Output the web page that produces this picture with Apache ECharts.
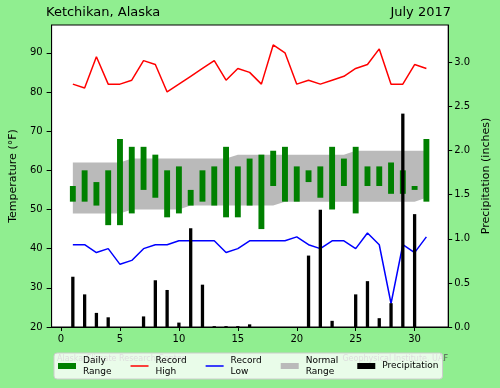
<!DOCTYPE html>
<html>
<head>
<meta charset="utf-8">
<script src="https://cdn.jsdelivr.net/npm/echarts@6/dist/echarts.min.js"></script>
<style>
html,body{margin:0;padding:0;background:#90EE90;}
#c{width:500px;height:388px;}
</style>
</head>
<body>
<div id="c"></div>
<script>
const days = [1,2,3,4,5,6,7,8,9,10,11,12,13,14,15,16,17,18,19,20,21,22,23,24,25,26,27,28,29,30,31];
const dailyHigh = [56,60,57,60,68,66,66,64,60,61,55,60,61,66,61,63,64,65,66,61,60,61,66,63,66,61,61,62,60,56,68];
const dailyLow  = [52,52,51,46,46,49,55,53,48,49,51,52,51,48,48,51,45,56,52,52,57,53,50,56,49,56,56,54,54,55,52];
const recordHigh = [82,81,89,82,82,83,88,87,80,82,84,86,88,83,86,85,82,92,90,82,83,82,83,84,86,87,91,82,82,87,86];
const recordLow  = [41,41,39,40,36,37,40,41,41,42,42,42,42,39,40,42,42,42,42,43,41,40,42,42,40,44,41,26,41,39,43];
const normalHigh = [62,62,62,62,62,63,63,63,63,63,63,63,63,63,64,64,64,64,64,64,64,64,64,64,65,65,65,65,65,65,65];
const normalLow  = [49,49,49,49,49,50,50,50,50,50,51,51,51,51,51,51,51,51,52,52,52,52,52,52,52,52,52,52,52,52,53];
const precip = [0.57,0.37,0.16,0.11,0,0,0.12,0.53,0.42,0.05,1.12,0.48,0.01,0.01,0.01,0.03,0,0,0,0,0.81,1.33,0.07,0,0.37,0.52,0.10,0.27,2.42,1.28,0];
const xTicks = [0,5,10,15,20,25,30];
const tempTicks = [20,30,40,50,60,70,80,90];
const precipTicks = [0,0.5,1.0,1.5,2.0,2.5,3.0];

const FONT = 'DejaVu Sans';
const LINE_ICON = 'path://M0,0 L18,0 L18,1.5 L0,1.5 Z';
const chart = echarts.init(document.getElementById('c'), null, {renderer:'canvas'});

const option = {
  backgroundColor: '#90EE90',
  animation: false,
  textStyle: {fontFamily: FONT, color: '#000'},
  title: [
    {text: 'Ketchikan, Alaska', left: 46, top: 6, padding: 0, textStyle: {fontFamily: FONT, fontSize: 13, fontWeight: 'normal', color: '#000'}},
    {text: 'July 2017', right: 49, top: 6, padding: 0, textStyle: {fontFamily: FONT, fontSize: 13, fontWeight: 'normal', color: '#000'}}
  ],
  graphic: [
    {type: 'text', z: 0, left: 57, top: 355, style: {text: 'Alaska Climate Research Center', fill: '#555', font: '8px "DejaVu Sans"'}},
    {type: 'text', z: 0, right: 52, top: 355, style: {text: 'Geophysical Institute, UAF', fill: '#555', font: '8px "DejaVu Sans"'}}
  ],
  grid: {left: 46, top: 25, width: 406, height: 302, show: true, backgroundColor: '#fff', borderColor: '#000', borderWidth: 1},
  legend: {
    z: 10,
    left: 54, top: 353,
    padding: [2, 4, 2, 4],
    itemGap: 19, itemWidth: 18, itemHeight: 6,
    backgroundColor: 'rgba(255,255,255,0.8)',
    borderColor: '#cccccc', borderWidth: 1, borderRadius: 3,
    textStyle: {fontFamily: FONT, fontSize: 9, lineHeight: 11, color: '#000', padding: [0,0,0,2]},
    formatter: function(n){ return n === 'Precipitation' ? n : n.replace(' ', '\n'); },
    data: [
      {name: 'Daily Range', icon: 'rect'},
      {name: 'Record High', icon: LINE_ICON},
      {name: 'Record Low', icon: LINE_ICON},
      {name: 'Normal Range', icon: 'rect'},
      {name: 'Precipitation', icon: 'rect'}
    ]
  },
  xAxis: {
    type: 'value', min: -0.8, max: 32.85,
    splitLine: {show: false},
    axisLine: {show: true, onZero: false, lineStyle: {color: '#000'}},
    axisTick: {show: true, length: 4, customValues: xTicks, lineStyle: {color: '#000'}},
    axisLabel: {customValues: xTicks, fontSize: 10, margin: 7, color: '#000', fontFamily: FONT}
  },
  yAxis: [
    {
      type: 'value', min: 20, max: 97.1, position: 'left',
      name: 'Temperature (°F)', nameLocation: 'middle', nameGap: 28,
      nameTextStyle: {fontSize: 11, fontFamily: FONT, color: '#000'},
      splitLine: {show: false},
      axisLine: {show: true, onZero: false, lineStyle: {color: '#000'}},
      axisTick: {show: true, length: 5, customValues: tempTicks, lineStyle: {color: '#000'}},
      axisLabel: {customValues: tempTicks, fontSize: 10, margin: 9, color: '#000', fontFamily: FONT}
    },
    {
      type: 'value', min: 0, max: 3.425, position: 'right',
      name: 'Precipitation (inches)', nameLocation: 'middle', nameGap: 30,
      nameTextStyle: {fontSize: 11, fontFamily: FONT, color: '#000'},
      splitLine: {show: false},
      axisLine: {show: true, onZero: false, lineStyle: {color: '#000'}},
      axisTick: {show: true, length: 4, customValues: precipTicks, lineStyle: {color: '#000'}},
      axisLabel: {customValues: precipTicks, fontSize: 10, margin: 6, color: '#000', fontFamily: FONT,
        formatter: function(v){ return v.toFixed(1); }}
    }
  ],
  series: [
    {
      name: 'Normal Range', type: 'custom', z: 1,
      xAxisIndex: 0, yAxisIndex: 0,
      itemStyle: {color: '#bababa'},
      data: [[days[0], normalLow[0]]],
      renderItem: function(params, api){
        const pts = [];
        for (let i = 0; i < days.length; i++) pts.push(api.coord([days[i], normalHigh[i]]));
        for (let i = days.length - 1; i >= 0; i--) pts.push(api.coord([days[i], normalLow[i]]));
        return {type: 'polygon', shape: {points: pts}, style: {fill: '#bababa'}};
      }
    },
    {
      name: 'Daily Range', type: 'custom', z: 2,
      xAxisIndex: 0, yAxisIndex: 0,
      itemStyle: {color: '#008000'},
      encode: {x: 0, y: [1, 2]},
      data: days.map((d, i) => [d, dailyLow[i], dailyHigh[i]]),
      renderItem: function(params, api){
        const x = api.value(0);
        const lo = api.coord([x, api.value(1)]);
        const hi = api.coord([x, api.value(2)]);
        const w = api.size([0.5, 0])[0];
        return {type: 'rect', shape: {x: lo[0] - w/2, y: hi[1], width: w, height: lo[1] - hi[1]}, style: {fill: '#008000'}};
      }
    },
    {
      name: 'Record High', type: 'line', z: 3, symbol: 'none', showSymbol: false,
      xAxisIndex: 0, yAxisIndex: 0,
      itemStyle: {color: '#ff0000'},
      lineStyle: {color: '#ff0000', width: 1.5},
      data: days.map((d, i) => [d, recordHigh[i]])
    },
    {
      name: 'Record Low', type: 'line', z: 3, symbol: 'none', showSymbol: false,
      xAxisIndex: 0, yAxisIndex: 0,
      itemStyle: {color: '#0000ff'},
      lineStyle: {color: '#0000ff', width: 1.5},
      data: days.map((d, i) => [d, recordLow[i]])
    },
    {
      name: 'Precipitation', type: 'custom', z: 4,
      xAxisIndex: 0, yAxisIndex: 1,
      itemStyle: {color: '#000'},
      encode: {x: 0, y: 1},
      data: days.map((d, i) => [d, precip[i]]),
      renderItem: function(params, api){
        const x = api.value(0);
        const top = api.coord([x, api.value(1)]);
        const base = api.coord([x, 0]);
        const w = api.size([0.28, 0])[0];
        return {type: 'rect', shape: {x: top[0] - w/2, y: top[1], width: w, height: base[1] - top[1]}, style: {fill: '#000'}};
      }
    }
  ]
};
chart.setOption(option);
</script>
</body>
</html>
